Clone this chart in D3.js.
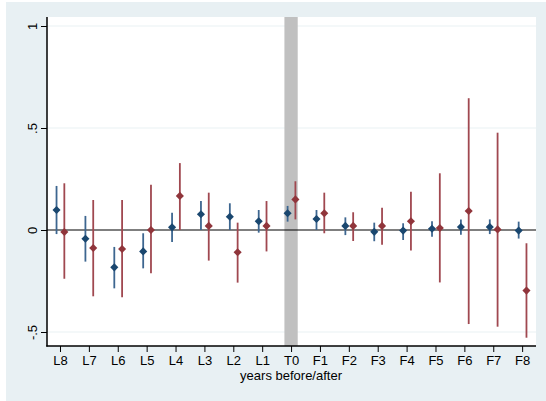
<!DOCTYPE html>
<html><head><meta charset="utf-8">
<script src="https://cdn.jsdelivr.net/npm/d3@7"></script>
<style>body{margin:0;background:#fff}svg{display:block;font-family:Arial,"Liberation Sans",sans-serif}</style>
</head><body><svg id="c" width="546" height="401"></svg>
<script>
const categories = ["L8","L7","L6","L5","L4","L3","L2","L1","T0","F1","F2","F3","F4","F5","F6","F7","F8"];
const blueEst  = [0.098,-0.043,-0.183,-0.105,0.013,0.077,0.065,0.043,0.082,0.054,0.020,-0.009,-0.003,0.006,0.015,0.015,-0.003];
const blueLow  = [-0.020,-0.155,-0.286,-0.188,-0.059,0.000,0.000,-0.013,0.041,0.000,-0.025,-0.055,-0.049,-0.033,-0.023,-0.020,-0.042];
const blueHigh = [0.216,0.069,-0.083,-0.016,0.085,0.142,0.131,0.098,0.118,0.098,0.062,0.036,0.033,0.043,0.052,0.052,0.041];
const redEst   = [-0.010,-0.088,-0.093,0.000,0.167,0.020,-0.109,0.020,0.150,0.082,0.020,0.020,0.043,0.010,0.093,0.003,-0.297];
const redLow   = [-0.239,-0.325,-0.330,-0.212,0.000,-0.150,-0.258,-0.105,0.052,-0.016,-0.054,-0.072,-0.100,-0.257,-0.461,-0.474,-0.528];
const redHigh  = [0.229,0.147,0.147,0.222,0.328,0.183,0.036,0.142,0.239,0.183,0.087,0.109,0.188,0.278,0.646,0.477,-0.065];
const yTicks = [-0.5,0,0.5,1];
const yTickLabels = ["-.5","0",".5","1"];
const xTitle = "years before/after";

const svg = d3.select("#c");
svg.append("rect").attr("x",6).attr("y",2).attr("width",540).attr("height",399).attr("fill","#e8f0f3");
const L=47,R=536,T=17,B=346;
const x = d3.scaleLinear().domain([-0.45,16.48]).range([L,R]);
const y = d3.scaleLinear().domain([-0.5,1]).range([332,26]);
svg.append("rect").attr("x",L).attr("y",T).attr("width",R-L).attr("height",B-T).attr("fill","#fff");
// grid
svg.selectAll(".g").data(yTicks.filter(d=>d!==0)).enter().append("line")
 .attr("x1",L).attr("x2",R).attr("y1",d=>y(d)).attr("y2",d=>y(d)).attr("stroke","#eaf2f3").attr("stroke-width",1.2);
// band at T0
const t0 = categories.indexOf("T0");
svg.append("rect").attr("x",x(t0-0.23)).attr("y",T).attr("width",x(t0+0.23)-x(t0-0.23)).attr("height",B-T).attr("fill","#c0c0c0");
// zero line
svg.append("line").attr("x1",L).attr("x2",R).attr("y1",y(0)).attr("y2",y(0)).attr("stroke","#000").attr("stroke-width",1.2);

function series(est,lo,hi,off,col,barCol){
  const g=svg.append("g");
  g.selectAll("line").data(est).enter().append("line")
   .attr("x1",(d,i)=>x(i+off)).attr("x2",(d,i)=>x(i+off))
   .attr("y1",(d,i)=>y(lo[i])).attr("y2",(d,i)=>y(hi[i]))
   .attr("stroke",barCol).attr("stroke-width",1.8);
  g.selectAll("path").data(est).enter().append("path")
   .attr("d",d3.symbol(d3.symbolDiamond2,42))
   .attr("transform",(d,i)=>`translate(${x(i+off)},${y(d)})`).attr("fill",col);
}
series(blueEst,blueLow,blueHigh,-0.12,"#1a476f","#3d6690");
series(redEst,redLow,redHigh,0.15,"#90353b","#a04850");

// axes
const ya = d3.axisLeft(y).tickValues(yTicks).tickSize(6).tickFormat((d,i)=>yTickLabels[i]);
const yg = svg.append("g").attr("transform",`translate(${L},0)`).call(ya);
yg.select(".domain").remove();
svg.append("line").attr("x1",L).attr("x2",L).attr("y1",T).attr("y2",B+0.5).attr("stroke","#000").attr("stroke-width",1.5);
yg.selectAll(".tick line").attr("stroke","#000");
yg.selectAll(".tick text").attr("x",0).attr("dy",0).attr("text-anchor","middle")
  .attr("transform","translate(-15,0) rotate(-90)").attr("dy","0.35em").attr("font-size",13).attr("fill","#000");
yg.selectAll(".tick text").attr("y",0);

const xa = d3.axisBottom(x).tickValues(d3.range(categories.length)).tickSize(6).tickFormat(i=>categories[i]);
const xg = svg.append("g").attr("transform",`translate(0,${B})`).call(xa);
xg.select(".domain").remove();
svg.append("line").attr("x1",L-0.75).attr("x2",R).attr("y1",B).attr("y2",B).attr("stroke","#000").attr("stroke-width",1.5);
xg.selectAll(".tick line").attr("stroke","#000");
xg.selectAll(".tick text").attr("y",10).attr("font-size",13).attr("fill","#000");
svg.append("text").attr("x",x(t0)).attr("y",380).attr("text-anchor","middle").attr("font-size",13).attr("fill","#000").text(xTitle);
</script></body></html>
